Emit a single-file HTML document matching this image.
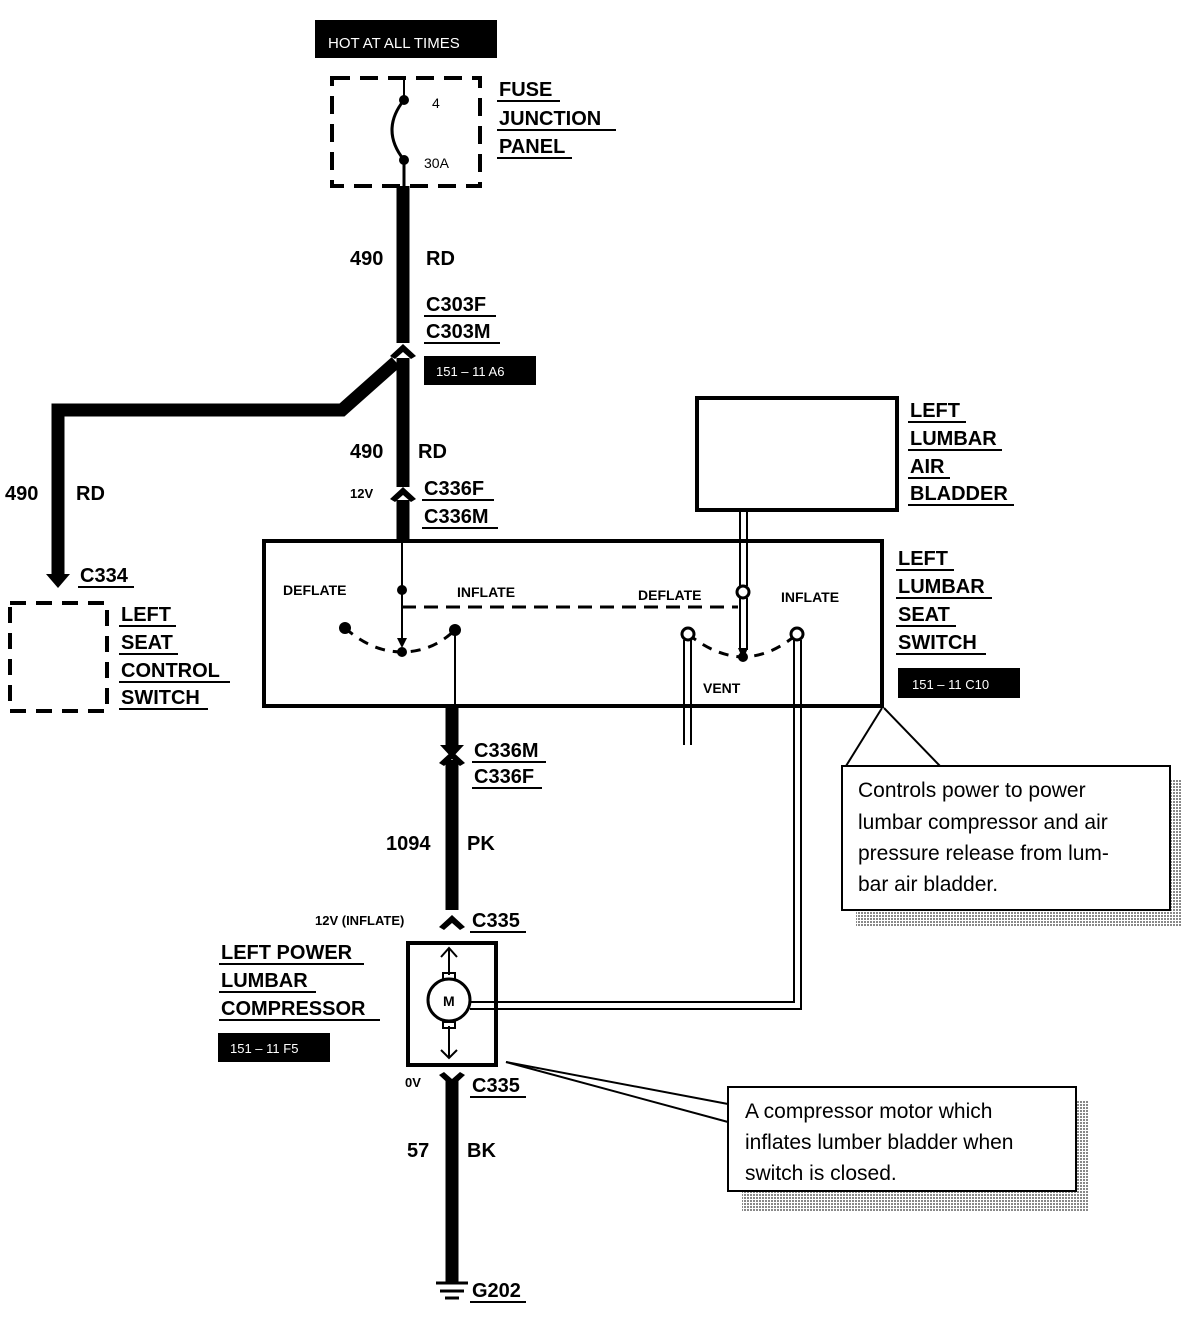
<!DOCTYPE html>
<html><head><style>
body{margin:0;background:#fff}
svg text{font-family:"Liberation Sans",Arial,sans-serif;font-weight:bold;fill:#000}
.l{font-size:20px}
.s{font-size:14px;font-weight:normal}
svg .c text{font-size:21px;font-weight:normal}
</style></head><body>
<svg width="1192" height="1312" viewBox="0 0 1192 1312" xmlns="http://www.w3.org/2000/svg">
<defs>
<pattern id="dots" width="3" height="3" patternUnits="userSpaceOnUse"><rect width="2" height="2" fill="#888"/></pattern>
</defs>
<rect x="315" y="20" width="182" height="38" fill="#000"/>
<text x="328" y="48" style="fill:#fff;font-size:15px;font-weight:normal">HOT AT ALL TIMES</text>
<rect x="332" y="78" width="148" height="108" fill="none" stroke="#000" stroke-width="4" stroke-dasharray="18,10"/>
<line x1="404" y1="78" x2="404" y2="100" stroke="#000" stroke-width="2"/>
<circle cx="404" cy="100" r="5"/><circle cx="404" cy="160" r="5"/>
<path d="M404 100 Q380 130 404 160" fill="none" stroke="#000" stroke-width="3"/>
<line x1="404" y1="160" x2="404" y2="186" stroke="#000" stroke-width="3"/>
<text x="432" y="108" style="font-size:14px;font-weight:normal">4</text><text x="424" y="168" style="font-size:14px;font-weight:normal">30A</text>
<g class="l">
<text x="499" y="96">FUSE</text><text x="499" y="125">JUNCTION</text><text x="499" y="153">PANEL</text>
</g>
<g stroke="#000" stroke-width="2"><line x1="497" y1="101" x2="560" y2="101"/><line x1="497" y1="130" x2="616" y2="130"/><line x1="497" y1="158" x2="572" y2="158"/></g>
<g stroke="#000" stroke-width="13" fill="none">
<line x1="403" y1="186" x2="403" y2="343"/>
<line x1="403" y1="358" x2="403" y2="487"/>
<line x1="403" y1="500" x2="403" y2="540"/>
<polyline points="396,362 342,410 58,410 58,574"/>
<line x1="452" y1="706" x2="452" y2="745"/>
<line x1="452" y1="760" x2="452" y2="910"/>
<line x1="452" y1="1080" x2="452" y2="1282"/>
</g>
<g fill="#000">
<polygon points="390,356 403,344 416,356 411,359 403,352 395,359"/>
<polygon points="390,499 403,487 416,499 411,502 403,495 395,502"/>
<polygon points="439,763 452,751 465,763 460,766 452,759 444,766"/>
<polygon points="439,927 452,915 465,927 460,930 452,923 444,930"/>
<polygon points="439,1075 452,1087 465,1075 460,1072 452,1079 444,1072"/>
</g>
<polygon points="46,574 70,574 58,588" fill="#000"/>
<polygon points="440,745 464,745 452,758" fill="#000"/>
<g stroke="#000" stroke-width="3"><line x1="436" y1="1283" x2="468" y2="1283"/><line x1="440" y1="1291" x2="464" y2="1291"/><line x1="445" y1="1298" x2="459" y2="1298"/></g>
<g class="l">
<text x="350" y="265">490</text><text x="426" y="265">RD</text>
<text x="426" y="311">C303F</text><text x="426" y="338">C303M</text>
<text x="350" y="458">490</text><text x="418" y="458">RD</text>
<text x="424" y="495">C336F</text><text x="424" y="523">C336M</text>
<text x="5" y="500">490</text><text x="76" y="500">RD</text>
<text x="80" y="582">C334</text>
<text x="121" y="621">LEFT</text><text x="121" y="649">SEAT</text><text x="121" y="677">CONTROL</text><text x="121" y="704">SWITCH</text>
<text x="910" y="417">LEFT</text><text x="910" y="445">LUMBAR</text><text x="910" y="473">AIR</text><text x="910" y="500">BLADDER</text>
<text x="898" y="565">LEFT</text><text x="898" y="593">LUMBAR</text><text x="898" y="621">SEAT</text><text x="898" y="649">SWITCH</text>
<text x="474" y="757">C336M</text><text x="474" y="783">C336F</text>
<text x="386" y="850">1094</text><text x="467" y="850">PK</text>
<text x="472" y="927">C335</text>
<text x="221" y="959">LEFT POWER</text><text x="221" y="987">LUMBAR</text><text x="221" y="1015">COMPRESSOR</text>
<text x="472" y="1092">C335</text>
<text x="407" y="1157">57</text><text x="467" y="1157">BK</text>
<text x="472" y="1297">G202</text>
</g>
<text x="350" y="498" style="font-size:13px">12V</text>
<text x="315" y="925" style="font-size:13px">12V (INFLATE)</text>
<text x="405" y="1087" style="font-size:13px">0V</text>
<g stroke="#000" stroke-width="2">
<line x1="424" y1="316" x2="496" y2="316"/><line x1="424" y1="343" x2="500" y2="343"/>
<line x1="422" y1="500" x2="494" y2="500"/><line x1="422" y1="528" x2="498" y2="528"/>
<line x1="78" y1="587" x2="134" y2="587"/>
<line x1="119" y1="626" x2="176" y2="626"/><line x1="119" y1="654" x2="178" y2="654"/><line x1="119" y1="682" x2="230" y2="682"/><line x1="119" y1="709" x2="208" y2="709"/>
<line x1="908" y1="422" x2="966" y2="422"/><line x1="908" y1="450" x2="1002" y2="450"/><line x1="908" y1="478" x2="950" y2="478"/><line x1="908" y1="505" x2="1014" y2="505"/>
<line x1="896" y1="570" x2="954" y2="570"/><line x1="896" y1="598" x2="992" y2="598"/><line x1="896" y1="626" x2="956" y2="626"/><line x1="896" y1="654" x2="986" y2="654"/>
<line x1="472" y1="762" x2="546" y2="762"/><line x1="472" y1="788" x2="542" y2="788"/>
<line x1="470" y1="932" x2="526" y2="932"/>
<line x1="219" y1="964" x2="364" y2="964"/><line x1="219" y1="992" x2="316" y2="992"/><line x1="219" y1="1020" x2="380" y2="1020"/>
<line x1="470" y1="1097" x2="526" y2="1097"/>
<line x1="470" y1="1302" x2="526" y2="1302"/>
</g>
<rect x="424" y="356" width="112" height="29" fill="#000"/><text x="436" y="376" style="fill:#fff;font-size:13px;font-weight:normal">151 – 11 A6</text>
<rect x="898" y="668" width="122" height="30" fill="#000"/><text x="912" y="689" style="fill:#fff;font-size:13px;font-weight:normal">151 – 11 C10</text>
<rect x="218" y="1033" width="112" height="29" fill="#000"/><text x="230" y="1053" style="fill:#fff;font-size:13px;font-weight:normal">151 – 11 F5</text>
<rect x="10" y="603" width="97" height="108" fill="none" stroke="#000" stroke-width="4" stroke-dasharray="16,10"/>
<rect x="697" y="398" width="200" height="112" fill="#fff" stroke="#000" stroke-width="4"/>
<rect x="264" y="541" width="618" height="165" fill="none" stroke="#000" stroke-width="4"/>
<g style="font-size:14px">
<text x="283" y="595" style="font-size:14px">DEFLATE</text><text x="457" y="597" style="font-size:14px">INFLATE</text>
<text x="638" y="600" style="font-size:14px">DEFLATE</text><text x="781" y="602" style="font-size:14px">INFLATE</text>
<text x="703" y="693" style="font-size:14px">VENT</text>
</g>
<g stroke="#000" fill="none">
<line x1="402" y1="541" x2="402" y2="645" stroke-width="2"/>
<line x1="402" y1="607" x2="738" y2="607" stroke-width="3" stroke-dasharray="14,8"/>
<path d="M345 628 Q372 652 402 652 Q432 652 455 630" stroke-width="3" stroke-dasharray="10,8"/>
<line x1="455" y1="630" x2="455" y2="706" stroke-width="2"/>
<line x1="740" y1="510" x2="740" y2="586" stroke-width="2"/><line x1="747" y1="510" x2="747" y2="586" stroke-width="2"/>
<line x1="740" y1="598" x2="740" y2="650" stroke-width="2"/><line x1="747" y1="598" x2="747" y2="650" stroke-width="2"/>
<path d="M688 634 Q715 656 743 657 Q772 656 797 634" stroke-width="3" stroke-dasharray="10,8"/>
<line x1="684" y1="640" x2="684" y2="745" stroke-width="2"/><line x1="691" y1="640" x2="691" y2="745" stroke-width="2"/>
<polyline points="794,640 794,1002 470,1002" stroke-width="2"/>
<polyline points="801,640 801,1009 470,1009" stroke-width="2"/>
</g>
<polygon points="397,638 407,638 402,648" fill="#000"/>
<circle cx="402" cy="590" r="5"/><circle cx="345" cy="628" r="6"/><circle cx="455" cy="630" r="6"/><circle cx="402" cy="652" r="5"/><circle cx="743" cy="657" r="5"/>
<polygon points="738,648 748,648 743,660" fill="#000"/>
<circle cx="743" cy="592" r="6" fill="#fff" stroke="#000" stroke-width="3"/>
<circle cx="688" cy="634" r="6" fill="#fff" stroke="#000" stroke-width="3"/>
<circle cx="797" cy="634" r="6" fill="#fff" stroke="#000" stroke-width="3"/>
<rect x="408" y="943" width="88" height="122" fill="none" stroke="#000" stroke-width="4"/>
<g stroke="#000" stroke-width="2" fill="none">
<line x1="449" y1="948" x2="449" y2="975"/><polyline points="441,957 449,948 457,957"/>
<line x1="449" y1="1026" x2="449" y2="1058"/><polyline points="441,1050 449,1058 457,1050"/>
<rect x="443" y="973" width="12" height="6"/><rect x="443" y="1022" width="12" height="6"/>
</g>
<circle cx="449" cy="1000" r="21" fill="#fff" stroke="#000" stroke-width="3"/>
<text x="443" y="1006" style="font-size:14px">M</text>
<rect x="856" y="780" width="326" height="146" fill="url(#dots)"/>
<rect x="842" y="766" width="328" height="144" fill="#fff" stroke="#000" stroke-width="2"/>
<g class="c"><text x="858" y="797">Controls power to power</text><text x="858" y="829">lumbar compressor and air</text><text x="858" y="860">pressure release from lum-</text><text x="858" y="891">bar air bladder.</text></g>
<rect x="742" y="1100" width="346" height="112" fill="url(#dots)"/>
<rect x="728" y="1087" width="348" height="104" fill="#fff" stroke="#000" stroke-width="2"/>
<g class="c"><text x="745" y="1118">A compressor motor which</text><text x="745" y="1149">inflates lumber bladder when</text><text x="745" y="1180">switch is closed.</text></g>
<g stroke="#000" stroke-width="2">
<line x1="882" y1="708" x2="846" y2="766"/><line x1="884" y1="708" x2="940" y2="766"/>
<line x1="506" y1="1062" x2="728" y2="1104"/><line x1="506" y1="1062" x2="728" y2="1122"/>
</g>
</svg>
</body></html>
